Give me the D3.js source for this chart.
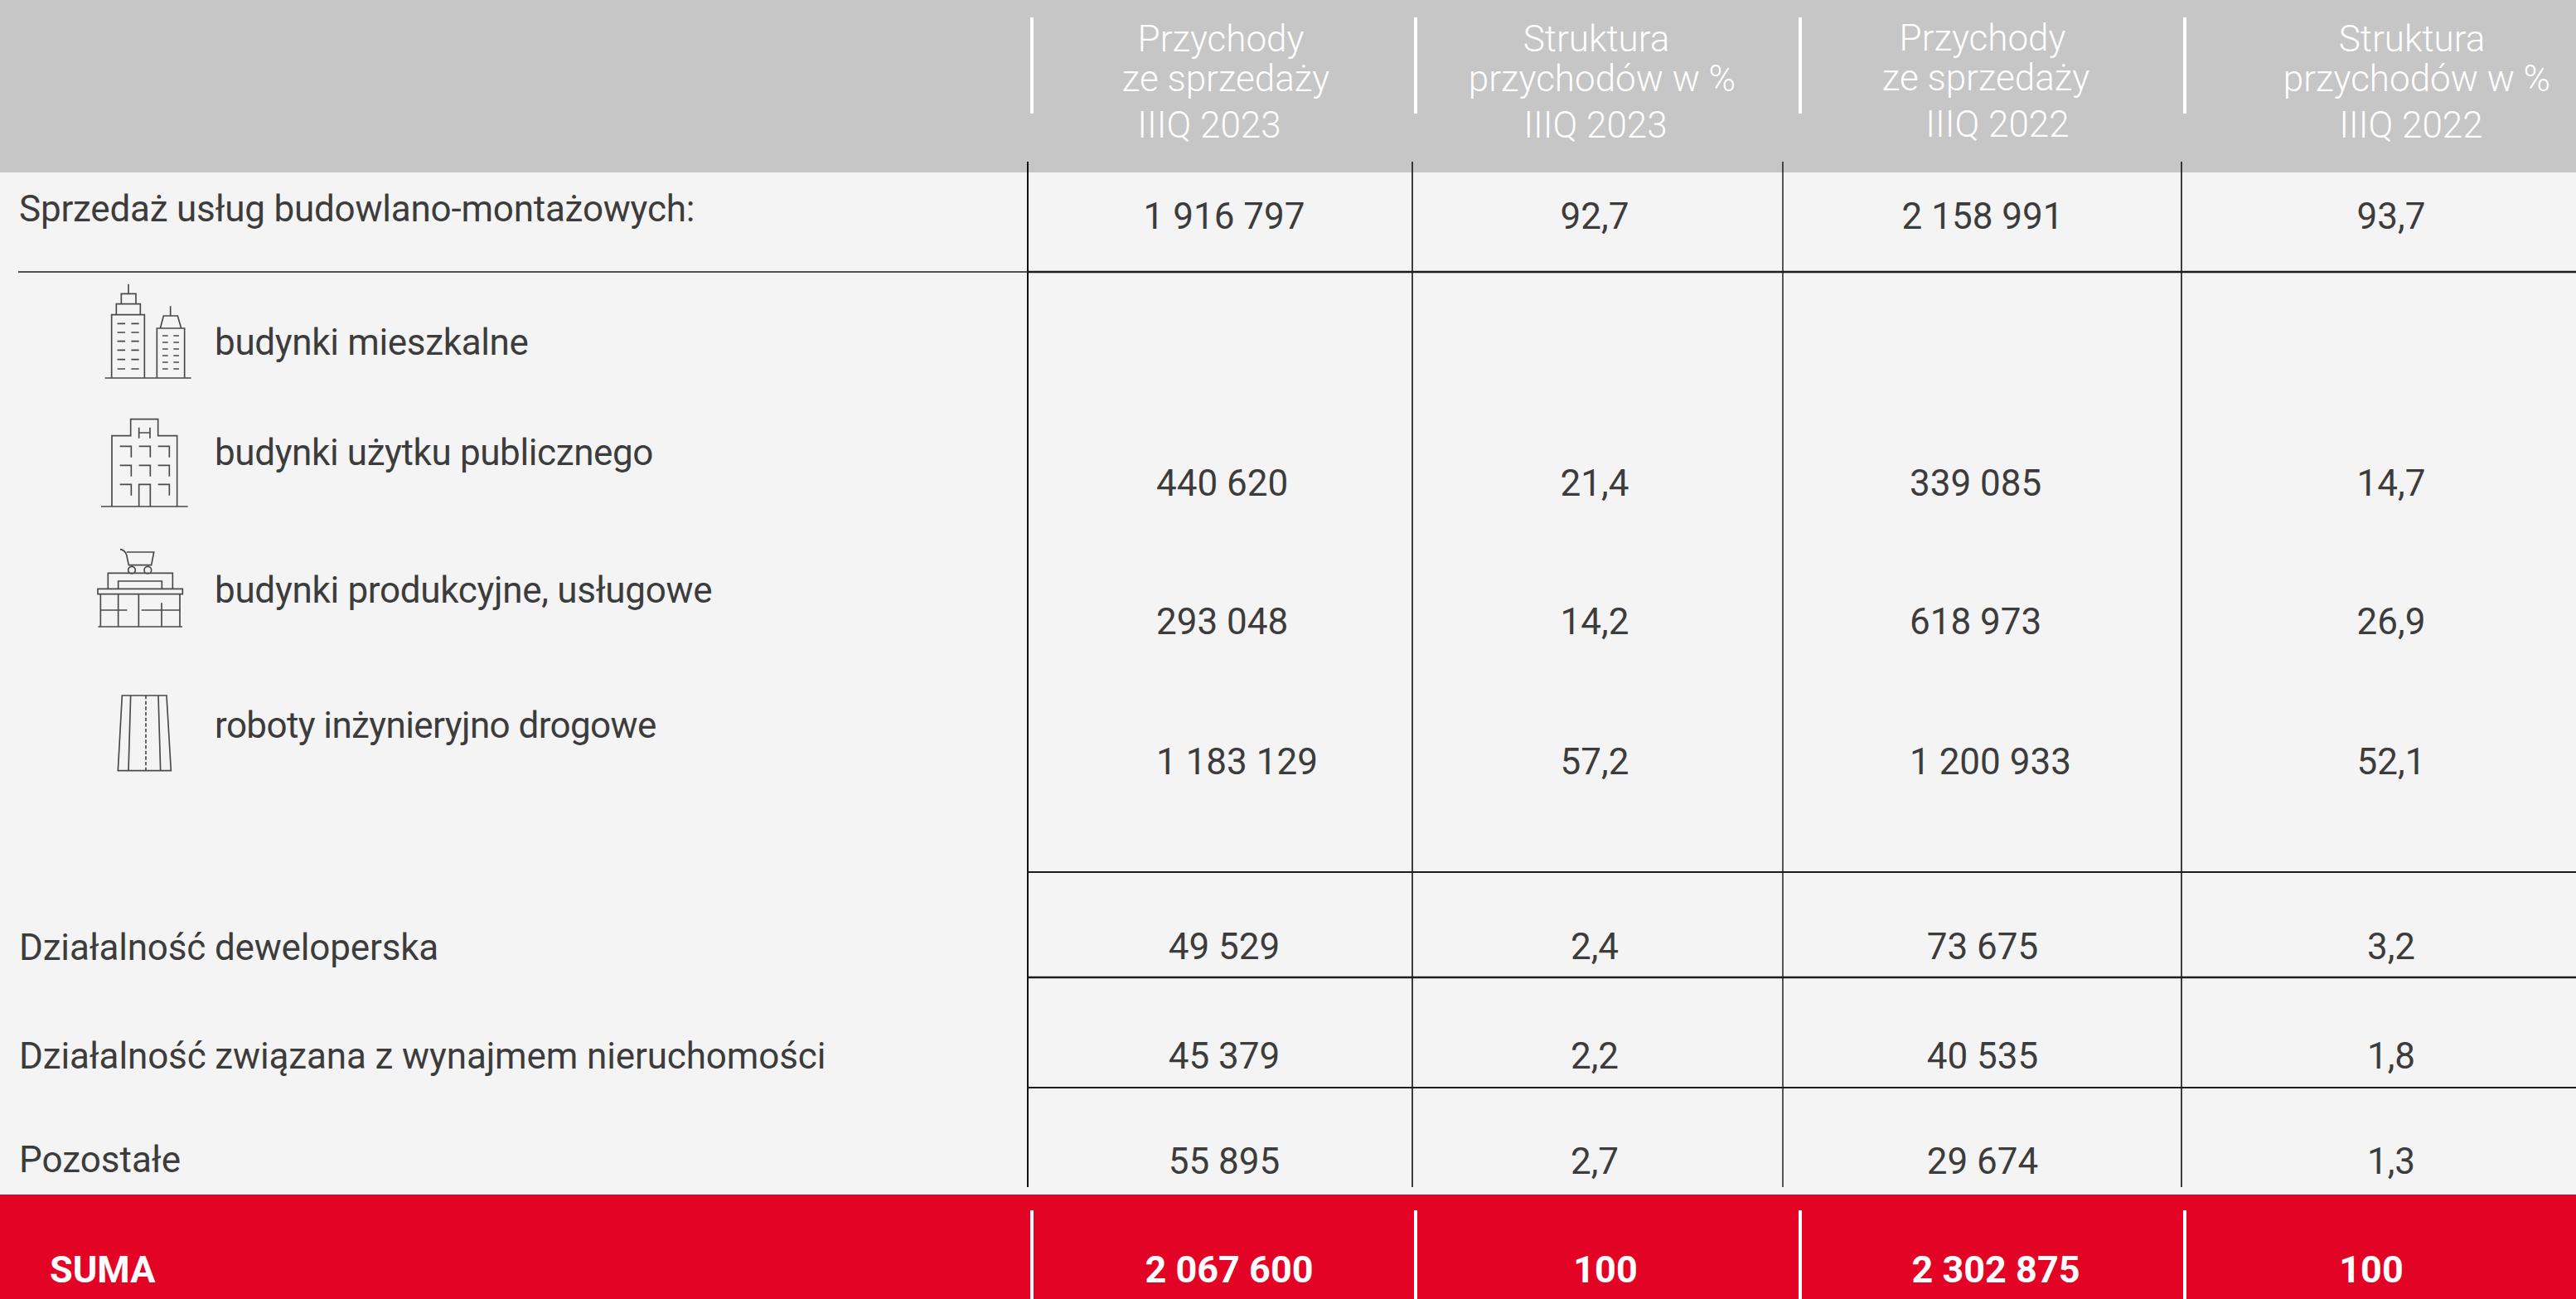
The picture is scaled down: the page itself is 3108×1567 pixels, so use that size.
<!DOCTYPE html>
<html><head><meta charset="utf-8">
<script src="https://cdn.jsdelivr.net/npm/d3@7/dist/d3.min.js"></script>
<style>html,body{margin:0;padding:0;background:#f4f4f4;overflow:hidden}svg{display:block}text{font-family:Roboto,sans-serif}</style>
</head><body><svg id="c" width="3108" height="1567"></svg>
<script>
// ---- data ----
const rowLabels = ["Sprzedaż usług budowlano-montażowych:","budynki mieszkalne","budynki użytku publicznego","budynki produkcyjne, usługowe","roboty inżynieryjno drogowe","Działalność deweloperska","Działalność związana z wynajmem nieruchomości","Pozostałe"];
const valueRows = ["sales","public","production","road","dev","rent","other"];
const revenue2023 = ["1 916 797","440 620","293 048","1 183 129","49 529","45 379","55 895"];
const share2023   = ["92,7","21,4","14,2","57,2","2,4","2,2","2,7"];
const revenue2022 = ["2 158 991","339 085","618 973","1 200 933","73 675","40 535","29 674"];
const share2022   = ["93,7","14,7","26,9","52,1","3,2","1,8","1,3"];
const totalLabel = "SUMA";
const totals = ["2 067 600","100","2 302 875","100"];
const headers = [
  ["Przychody","ze sprzedaży","IIIQ 2023"],
  ["Struktura","przychodów w %","IIIQ 2023"],
  ["Przychody","ze sprzedaży","IIIQ 2022"],
  ["Struktura","przychodów w %","IIIQ 2022"]
];

// ---- layout ----
const svg = d3.select("#c");
const W = 3108, H = 1567;
const INK = "#3c3c3c";
const labelBase = d3.scaleOrdinal().domain(rowLabels).range([267,428,561,727,890,1158,1289,1414]);
const labelX = d3.scaleOrdinal().domain(rowLabels).range([23,259,259,259,259,23,23,23]);
const labelTrack = d3.scaleOrdinal().domain(rowLabels).range([-0.22,-0.33,-0.38,-0.3,-0.6,-0.17,-0.13,0]);
const valueBase = d3.scaleOrdinal().domain(valueRows).range([276,598,765,934,1157,1289,1416]);
const colCentre = d3.scaleOrdinal().domain([0,1,2,3]).range([1477,1924,2392,2885]);
const groupStart = {0:1395,2:2304};   // the three sub-rows of the revenue columns are set flush left
const isGroupRow = i => i>=1 && i<=3;
const headCentre = [[1473,1479,1459],[1926,1933,1925],[2392,2396,2410],[2910,2916,2909]];
const headBase = [[62,110,166],[62,110,166],[61,109,165],[62,110,166]];
const totalCentre = [1483,1937,2408,2861];
const whiteLines = [1245,1708,2172,2636];
const blackLines = [{x:1240,w:2},{x:1704,w:1.6},{x:2151,w:1.4},{x:2632,w:1.6}];

svg.append("rect").attr("width",W).attr("height",H).attr("fill","#f4f4f4");
svg.append("rect").attr("width",W).attr("height",208).attr("fill","#c6c6c6");
svg.append("rect").attr("y",1441).attr("width",W).attr("height",H-1441).attr("fill","#e30425");

svg.selectAll(".wt").data(whiteLines).join("line").attr("x1",d=>d).attr("x2",d=>d).attr("y1",21).attr("y2",137).attr("stroke","#fff").attr("stroke-width",4);
svg.selectAll(".wb").data(whiteLines).join("line").attr("x1",d=>d).attr("x2",d=>d).attr("y1",1460).attr("y2",H).attr("stroke","#fff").attr("stroke-width",4);
svg.selectAll(".bl").data(blackLines).join("line").attr("x1",d=>d.x).attr("x2",d=>d.x).attr("y1",195).attr("y2",1432).attr("stroke","#111").attr("stroke-width",d=>d.w);
svg.selectAll(".hl").data([{y:328,x:22,x2:1240,w:1.4},{y:328,x:1240,x2:W,w:2.4},{y:1052,x:1240,x2:W,w:2},{y:1179,x:1240,x2:W,w:2.4},{y:1312,x:1240,x2:W,w:2}]).join("line")
  .attr("x1",d=>d.x).attr("x2",d=>d.x2).attr("y1",d=>d.y).attr("y2",d=>d.y).attr("stroke","#1c1c1c").attr("stroke-width",d=>d.w);

headers.forEach((lines,c)=>{
  svg.append("g").selectAll("text").data(lines).join("text")
    .attr("x",(d,i)=>headCentre[c][i]).attr("y",(d,i)=>headBase[c][i])
    .attr("text-anchor","middle").attr("font-size",44).attr("font-weight",300).attr("fill","#fff").text(d=>d);
});

svg.append("g").selectAll("text").data(rowLabels).join("text")
  .attr("x",d=>labelX(d)).attr("y",d=>labelBase(d)).attr("font-size",44).attr("letter-spacing",d=>labelTrack(d)).attr("fill",INK).text(d=>d);

[revenue2023,share2023,revenue2022,share2022].forEach((col,c)=>{
  svg.append("g").selectAll("text").data(col).join("text")
    .attr("x",(d,i)=>isGroupRow(i)&&groupStart[c]?groupStart[c]:colCentre(c))
    .attr("y",(d,i)=>valueBase(valueRows[i]))
    .attr("text-anchor",(d,i)=>isGroupRow(i)&&groupStart[c]?"start":"middle")
    .attr("font-size",44).attr("fill",INK).text(d=>d);
});

svg.append("text").attr("x",60).attr("y",1547).attr("font-size",45).attr("font-weight",700).attr("fill","#fff").text(totalLabel);
svg.append("g").selectAll("text").data(totals).join("text")
  .attr("x",(d,i)=>totalCentre[i]).attr("y",1547).attr("text-anchor","middle").attr("font-size",45).attr("font-weight",700).attr("fill","#fff").text(d=>d);

// ---- pictograms ----
function dashes(xs,ys,len){return ys.map(y=>xs.map(x=>`M${x} ${y}h${len}`).join("")).join("");}
const icons = [
 {t:"translate(90,330) scale(0.3333)", d:
  "M110 378H422M134 378V149H253V378M151 149V110H238V149M169 110V73H222V110M195 73V38M298 378V198H398V378M310 198L322 153H373L386 198M347 153V118"
  + dashes([155,205],[181,213,245,277,311,345],28) + dashes([318,358],[225,249,273,297,321,345],20)},
 {t:"translate(90,330) scale(0.3333)", d:
  "M96 843H410M135 843V587H203V527H302V587H371V843M233 557V596M273 557V596M233 576H273"
  + "M164 625H205V665M233 625H274V665M302 625H343V665M164 694H205V734M233 694H274V734M302 694H343V734M164 763H205V803M302 763H343V803M233 843V763H274V843"},
 {t:"translate(90,650) scale(0.3333)", d:
  "M85 318H390M94 200V318M381 200V318M158 200V318M232 200V318M315 232V318M94 258H190M242 258H381M84 181H391V200H84ZM121 181V124H355V181M158 181V153H316V181"
  + "M165 38C178 40 184 46 188 58L196 95H278L287 48H188M207 113m-13 0a13 13 0 1 0 26 0a13 13 0 1 0 -26 0M265 113m-13 0a13 13 0 1 0 26 0a13 13 0 1 0 -26 0"},
 {t:"translate(90,650) scale(0.3333)", d:
  "M157 839H349L333 567H172ZM195 839L203 567M311 839L303 567"}
];
svg.append("g").selectAll("path").data(icons).join("path")
  .attr("transform",d=>d.t).attr("d",d=>d.d).attr("fill","none").attr("stroke","#4a4a4a").attr("stroke-width",5);
svg.append("line").attr("transform","translate(90,650) scale(0.3333)")
  .attr("x1",258).attr("x2",258).attr("y1",567).attr("y2",839).attr("stroke","#4a4a4a").attr("stroke-width",5).attr("stroke-dasharray","13 7");
</script></body></html>
